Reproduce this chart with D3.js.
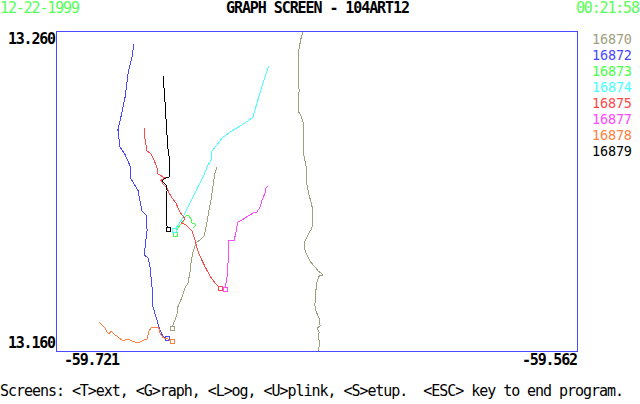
<!DOCTYPE html>
<html>
<head>
<meta charset="utf-8">
<title>Graph Screen - 104ART12</title>
<script src="https://d3js.org/d3.v7.min.js"></script>
<style>
  body { margin: 0; background: #fff; }
  svg text { font-family: "DejaVu Sans Mono", "Liberation Mono", monospace; font-size: 15px; white-space: pre; }
  svg text.leg { font-size: 13.5px; }
  .track { fill: none; stroke-width: 1; shape-rendering: crispEdges; }
  .mark { fill: #fff; stroke-width: 1; shape-rendering: crispEdges; }
</style>
</head>
<body>
<svg width="640" height="404"></svg>
<script>
// header / footer texts
const dateText = "12-22-1999";
const timeText = "00:21:58";
const titleText = "GRAPH SCREEN - 104ART12";
const footerText = "Screens: <T>ext, <G>raph, <L>og, <U>plink, <S>etup.  <ESC> key to end program.";

// axis extents (tick labels)
const lonRange = [-59.721, -59.562];
const latRange = [13.160, 13.260];
const xTickLabels = ["-59.721", "-59.562"];
const yTickLabels = ["13.260", "13.160"];

// buoy ids and colours
const buoys = ["16870", "16872", "16873", "16874", "16875", "16877", "16878", "16879"];
const colors = ["#a0a080", "#4848ff", "#48ff48", "#48ffff", "#ff4848", "#ff48ff", "#ff8040", "#000000"];

// drift tracks (lon / lat), null = gap in the track
const lon16870 = [-59.6456, -59.6462, -59.6468, -59.6471, -59.6471, -59.6468, -59.6471, -59.6471, -59.6462, -59.6453,
  -59.6456, -59.6456, -59.6450, -59.6444, -59.6444, -59.6438, -59.6429, -59.6426, -59.6429, -59.6441,
  -59.6450, -59.6453, -59.6444, -59.6435, -59.6420, -59.6410, -59.6395, -59.6407, -59.6413, -59.6417,
  -59.6420, -59.6417, -59.6407, -59.6404, -59.6413, -59.6407, -59.6410, -59.6404, -59.6410,
  null,
  -59.6719, -59.6725, -59.6731, -59.6737, -59.6743, -59.6749, -59.6758, -59.6771, -59.6783, -59.6792,
  -59.6798, -59.6801, -59.6807, -59.6816, -59.6825, -59.6838, -59.6841, -59.6847, -59.6853, -59.6856];
const lat16870 = [13.2600, 13.2578, 13.2547, 13.2516, 13.2453, 13.2413, 13.2381, 13.2350, 13.2334, 13.2306,
  13.2275, 13.2225, 13.2194, 13.2163, 13.2119, 13.2088, 13.2056, 13.2016, 13.1984, 13.1963,
  13.1944, 13.1922, 13.1900, 13.1881, 13.1863, 13.1850, 13.1838, 13.1834, 13.1819, 13.1788,
  13.1744, 13.1725, 13.1703, 13.1678, 13.1672, 13.1659, 13.1641, 13.1625, 13.1600,
  null,
  13.2175, 13.2156, 13.2113, 13.2072, 13.2041, 13.2003, 13.1959, 13.1947, 13.1938, 13.1909,
  13.1875, 13.1847, 13.1813, 13.1797, 13.1769, 13.1738, 13.1713, 13.1697, 13.1681, 13.1672];

const lon16872 = [-59.6972, -59.6978, -59.6990, -59.6999, -59.7009, -59.7021, -59.7015, -59.6999, -59.6981, -59.6984,
  -59.6972, -59.6960, -59.6954, -59.6948, -59.6935, -59.6932, -59.6941, -59.6929, -59.6923, -59.6917,
  -59.6914, -59.6902, -59.6893, -59.6883, -59.6871];
const lat16872 = [13.2559, 13.2519, 13.2469, 13.2394, 13.2344, 13.2291, 13.2238, 13.2213, 13.2172, 13.2144,
  13.2122, 13.2103, 13.2072, 13.2038, 13.2025, 13.1978, 13.1900, 13.1891, 13.1863, 13.1800,
  13.1738, 13.1697, 13.1666, 13.1644, 13.1641];

const lon16873 = [-59.6792, -59.6783, -59.6789, -59.6795, -59.6798, -59.6804, -59.6810, -59.6816, -59.6819, -59.6829,
  -59.6838, -59.6844, -59.6847];
const lat16873 = [13.1984, 13.1994, 13.2000, 13.2000, 13.2013, 13.2022, 13.2025, 13.2019, 13.2009, 13.1997,
  13.1984, 13.1972, 13.1966];

const lon16874 = [-59.6560, -59.6566, -59.6578, -59.6594, -59.6609, -59.6624, -59.6648, -59.6679, -59.6703, -59.6719,
  -59.6734, -59.6737, -59.6749, -59.6761, -59.6777, -59.6792, -59.6807, -59.6822, -59.6835, -59.6844, -59.6850];
const lat16874 = [13.2491, 13.2475, 13.2438, 13.2384, 13.2331, 13.2319, 13.2303, 13.2284, 13.2266, 13.2244,
  13.2225, 13.2197, 13.2175, 13.2144, 13.2113, 13.2081, 13.2050, 13.2019, 13.1997, 13.1984, 13.1978];

const lon16875 = [-59.6941, -59.6938, -59.6932, -59.6920, -59.6911, -59.6902, -59.6899, -59.6883, -59.6874, -59.6890,
  -59.6883, -59.6871, -59.6865, -59.6856, -59.6844, -59.6832, -59.6816, -59.6829, -59.6813, -59.6795,
  -59.6786, -59.6780, -59.6771, -59.6755, -59.6740, -59.6725, -59.6710];
const lat16875 = [13.2297, 13.2259, 13.2225, 13.2216, 13.2197, 13.2175, 13.2153, 13.2144, 13.2141, 13.2134,
  13.2122, 13.2109, 13.2094, 13.2078, 13.2063, 13.2034, 13.2013, 13.2000, 13.1994, 13.1975,
  13.1947, 13.1922, 13.1897, 13.1863, 13.1834, 13.1813, 13.1797];

const lon16877 = [-59.6563, -59.6569, -59.6572, -59.6581, -59.6587, -59.6597, -59.6609, -59.6618, -59.6633, -59.6642,
  -59.6655, -59.6658, -59.6661, -59.6667, -59.6676, -59.6682, -59.6685, -59.6685, -59.6688, -59.6691, -59.6694];
const lat16877 = [13.2116, 13.2109, 13.2094, 13.2072, 13.2050, 13.2034, 13.2031, 13.2025, 13.2016, 13.2009,
  13.2003, 13.1988, 13.1969, 13.1944, 13.1944, 13.1947, 13.1916, 13.1875, 13.1831, 13.1813, 13.1794];

const lon16878 = [-59.7079, -59.7070, -59.7060, -59.7054, -59.7048, -59.7042, -59.7033, -59.7021, -59.7009, -59.6999,
  -59.6990, -59.6978, -59.6969, -59.6960, -59.6948, -59.6932, -59.6929, -59.6926, -59.6920, -59.6908,
  -59.6896, -59.6893, -59.6883, -59.6868, -59.6859, -59.6856, -59.6856];
const lat16878 = [13.1691, 13.1681, 13.1672, 13.1659, 13.1653, 13.1663, 13.1653, 13.1644, 13.1634, 13.1634,
  13.1638, 13.1631, 13.1628, 13.1625, 13.1631, 13.1638, 13.1650, 13.1663, 13.1672, 13.1672,
  13.1672, 13.1656, 13.1641, 13.1638, 13.1628, 13.1622, 13.1631];

const lon16879 = [-59.6883, -59.6877, -59.6874, -59.6871, -59.6868, -59.6862, -59.6865, -59.6880, -59.6887, -59.6874,
  -59.6871, -59.6874, -59.6874, -59.6874, -59.6868];
const lat16879 = [13.2459, 13.2375, 13.2319, 13.2272, 13.2228, 13.2188, 13.2144, 13.2138, 13.2131, 13.2119,
  13.2103, 13.2072, 13.2034, 13.1997, 13.1981];

const lons = [lon16870, lon16872, lon16873, lon16874, lon16875, lon16877, lon16878, lon16879];
const lats = [lat16870, lat16872, lat16873, lat16874, lat16875, lat16877, lat16878, lat16879];

// layout
const plot = { left: 56, right: 577, top: 31, bottom: 351 };
const green = "#55ff55";
const frameColor = "#4848ff";

const svg = d3.select("svg");

const x = d3.scaleLinear().domain(lonRange).range([plot.left, plot.right]);
const y = d3.scaleLinear().domain(latRange).range([plot.bottom, plot.top]);

// header
svg.append("text").attr("x", 0).attr("y", 13).attr("fill", green)
  .attr("textLength", dateText.length * 8).text(dateText);
svg.append("text").attr("x", 226).attr("y", 13).attr("fill", "#000").attr("font-weight", "bold")
  .attr("textLength", titleText.length * 8).text(titleText);
svg.append("text").attr("x", 576).attr("y", 13).attr("fill", green)
  .attr("textLength", timeText.length * 8).text(timeText);

// clip for the tracks
svg.append("clipPath").attr("id", "plotclip")
  .append("rect")
  .attr("x", plot.left).attr("y", plot.top)
  .attr("width", plot.right - plot.left).attr("height", plot.bottom - plot.top);

const line = d3.line()
  .defined(d => d[0] !== null)
  .x(d => x(d[0]))
  .y(d => y(d[1]));

const tracks = svg.append("g").attr("clip-path", "url(#plotclip)");

buoys.forEach((id, i) => {
  const pts = lons[i].map((v, j) => [v, lats[i][j]]);
  tracks.append("path")
    .datum(pts)
    .attr("class", "track")
    .attr("stroke", colors[i])
    .attr("d", line);

  // square at latest position
  const last = pts[pts.length - 1];
  tracks.append("rect")
    .attr("class", "mark")
    .attr("stroke", colors[i])
    .attr("x", Math.round(x(last[0])) - 2 + 0.5)
    .attr("y", Math.round(y(last[1])) - 2 + 0.5)
    .attr("width", 4)
    .attr("height", 4);
});

// frame
svg.append("rect")
  .attr("x", plot.left + 0.5).attr("y", plot.top + 0.5)
  .attr("width", plot.right - plot.left).attr("height", plot.bottom - plot.top)
  .attr("fill", "none").attr("stroke", frameColor).attr("shape-rendering", "crispEdges");

// axis labels
svg.selectAll(".ylab")
  .data(yTickLabels)
  .enter().append("text")
  .attr("class", "ylab")
  .attr("x", 8)
  .attr("y", d => y(+d) + (+d === latRange[1] ? 13 : -3))
  .attr("textLength", d => d.length * 8)
  .attr("font-weight", "bold")
  .text(d => d);

svg.append("text").attr("x", x(lonRange[0]) + 8).attr("y", 365)
  .attr("textLength", xTickLabels[0].length * 8).attr("font-weight", "bold")
  .text(xTickLabels[0]);
svg.append("text").attr("x", x(lonRange[1]) + 1 - xTickLabels[1].length * 8).attr("y", 365)
  .attr("textLength", xTickLabels[1].length * 8).attr("font-weight", "bold")
  .text(xTickLabels[1]);

// legend
svg.selectAll(".leg")
  .data(buoys)
  .enter().append("text")
  .attr("class", "leg")
  .attr("x", 592)
  .attr("y", (d, i) => 44 + i * 16)
  .attr("fill", (d, i) => colors[i])
  .attr("textLength", d => d.length * 8)
  .text(d => d);

// footer
svg.append("text").attr("x", 0).attr("y", 396)
  .attr("textLength", footerText.length * 8)
  .text(footerText);
</script>
</body>
</html>
